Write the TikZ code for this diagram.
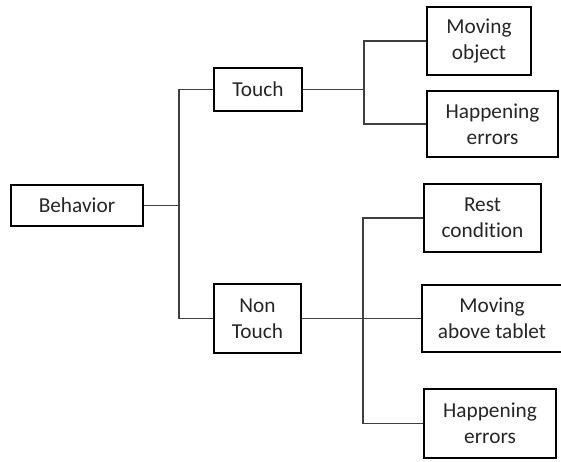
\documentclass[tikz,border=0pt]{standalone}
\usepackage{fontspec}
\setmainfont{Carlito}[RawFeature=-liga]
\definecolor{txt}{HTML}{262626}
\definecolor{wire}{HTML}{404040}
\begin{document}
\begin{tikzpicture}[x=1pt,y=-1pt,
  box/.style={draw=black, line width=2pt, inner sep=0pt, align=center,
    text=txt, font=\fontsize{21.3}{26}\selectfont},
  wirel/.style={draw=wire, line width=1.2pt}]
\useasboundingbox (0,0) rectangle (561,461);
\node[box, minimum width=132pt, minimum height=41pt] (beh) at (77,205.5) {Behavior};
\node[box, minimum width=88pt, minimum height=43pt] (touch) at (258,89.5) {Touch};
\node[box, minimum width=87pt, minimum height=69pt] (nont) at (257.5,318.5) {Non\\Touch};
\node[box, minimum width=104pt, minimum height=68pt] (mo) at (479,41) {Moving\\object};
\node[box, minimum width=131pt, minimum height=66pt] (he1) at (492.5,124) {Happening\\errors};
\node[box, minimum width=117pt, minimum height=68pt] (rest) at (482.5,218) {Rest\\condition};
\node[box, minimum width=140pt, minimum height=67pt] (mat) at (492,318.5) {Moving\\above tablet};
\node[box, minimum width=132pt, minimum height=69pt] (he2) at (490,423.5) {Happening\\errors};
\coordinate (j1) at (179,205.5);
\coordinate (j2) at (364,89.5);
\coordinate (j3) at (363,318.5);
\draw[wirel] (beh.east) -- (j1);
\draw[wirel] (touch.west) -| (j1);
\draw[wirel] (nont.west) -| (j1);
\draw[wirel] (touch.east) -- (j2);
\draw[wirel] (mo.west) -| (j2);
\draw[wirel] (he1.west) -| (j2);
\draw[wirel] (nont.east) -- (j3);
\draw[wirel] (rest.west) -| (j3);
\draw[wirel] (mat.west) -| (j3);
\draw[wirel] (he2.west) -| (j3);
\end{tikzpicture}
\end{document}
